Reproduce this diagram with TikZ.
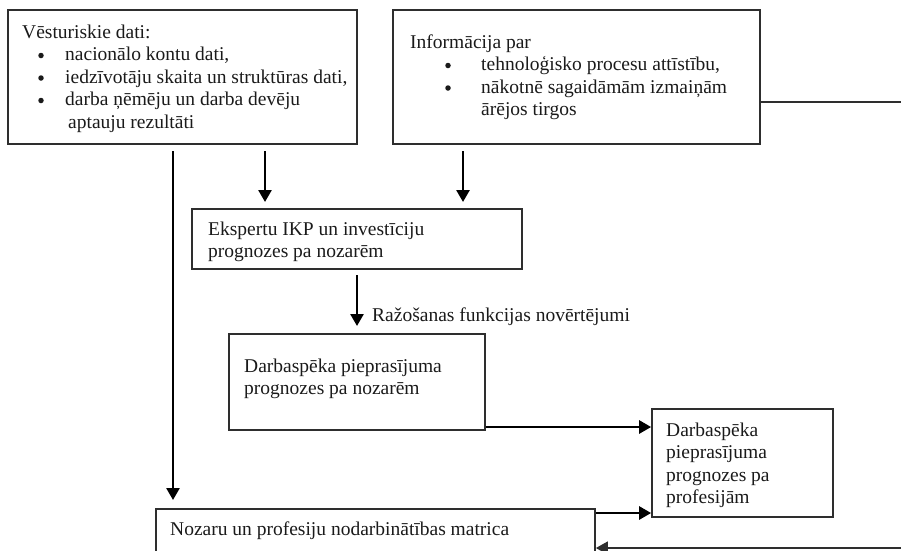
\documentclass[tikz,border=0pt]{standalone}
\usepackage{fontspec}
\setmainfont{Liberation Serif}
\usetikzlibrary{arrows.meta}
\definecolor{boxline}{HTML}{2E2E2E}
\definecolor{ink}{HTML}{1A1A1A}
\tikzset{
  box/.style={draw=boxline, line width=1.7pt, rectangle, inner sep=0pt},
  txt/.style={inner sep=0pt, anchor=base west, text=ink, font=\fontsize{19.5}{22.5}\selectfont},
  bul/.style={circle, fill=ink, inner sep=0pt, minimum size=5.5pt},
  arr/.style={line width=2.6pt, -{Triangle[length=12pt,width=13pt]}},
  loopline/.style={draw=boxline, line width=1.1pt},
  looparr/.style={draw=boxline, line width=1.3pt, -{Triangle[length=12pt,width=13pt]}}
}
\begin{document}
\begin{tikzpicture}[x=1pt,y=-1pt]
\useasboundingbox (0,0) rectangle (901,550);
\clip (0,0) rectangle (901,550);
% boxes
\node[box, minimum width=349pt, minimum height=134pt] (boxA) at (182.5,77) {};
\node[box, minimum width=367pt, minimum height=134pt] (boxB) at (576.5,77) {};
\node[box, minimum width=330pt, minimum height=60pt] (boxC) at (357,239) {};
\node[box, minimum width=256pt, minimum height=96pt] (boxD) at (357,382) {};
\node[box, minimum width=181pt, minimum height=108pt] (boxE) at (742.5,463) {};
\node[box, minimum width=439pt, minimum height=62pt] (boxF) at (375.5,540) {};
% box A text
\node[txt] (tA0) at (22,38) {Vēsturiskie dati:};
\node[bul] (bA1) at (41,55.5) {};
\node[txt] (tA1) at (65,60.5) {nacionālo kontu dati,};
\node[bul] (bA2) at (41,78) {};
\node[txt] (tA2) at (65,83) {iedzīvotāju skaita un struktūras dati,};
\node[bul] (bA3) at (41,100.5) {};
\node[txt] (tA3) at (65,105.5) {darba ņēmēju un darba devēju};
\node[txt] (tA4) at (68,128) {aptauju rezultāti};
% box B text
\node[txt] (tB0) at (410,48) {Informācija par};
\node[bul] (bB1) at (448,65.5) {};
\node[txt] (tB1) at (481,70.5) {tehnoloģisko procesu attīstību,};
\node[bul] (bB2) at (448,88) {};
\node[txt] (tB2) at (481,93) {nākotnē sagaidāmām izmaiņām};
\node[txt] (tB3) at (481,115.5) {ārējos tirgos};
% box C text
\node[txt] (tC1) at (208,235) {Ekspertu IKP un investīciju};
\node[txt] (tC2) at (208,257.5) {prognozes pa nozarēm};
% box D text
\node[txt] (tD1) at (244,372) {Darbaspēka pieprasījuma};
\node[txt] (tD2) at (244,394.5) {prognozes pa nozarēm};
% box E text
\node[txt] (tE1) at (666,436) {Darbaspēka};
\node[txt] (tE2) at (666,458.5) {pieprasījuma};
\node[txt] (tE3) at (666,481) {prognozes pa};
\node[txt] (tE4) at (666,503.5) {profesijām};
% box F text
\node[txt] (tF1) at (170,535.5) {Nozaru un profesiju nodarbinātības matrica};
% label
\node[txt] (lab) at (372,321) {Ražošanas funkcijas novērtējumi};
% connector coordinates
\coordinate (sL) at (173,151);
\coordinate (eL) at (173,500);
\coordinate (s1) at (265,151);
\coordinate (e1) at (265,202);
\coordinate (s2) at (463,151);
\coordinate (e2) at (463,202);
\coordinate (s3) at (357,275);
\coordinate (e3) at (357,326);
\coordinate (yDE) at (0,427);
\coordinate (yFE) at (0,513);
\coordinate (yTop) at (0,102);
\coordinate (r1) at (920,102);
\coordinate (r2) at (920,548);
% connectors
\draw[arr] (sL) -- (eL);
\draw[arr] (s1) -- (e1);
\draw[arr] (s2) -- (e2);
\draw[arr] (s3) -- (e3);
\draw[arr] (boxD.east |- yDE) -- (boxE.west |- yDE);
\draw[arr] (boxF.east |- yFE) -- (boxE.west |- yFE);
\draw[loopline] (boxB.east |- yTop) -- (r1) -- (r2);
\draw[looparr] (r2) -- (boxF.east |- r2);
\end{tikzpicture}
\end{document}
